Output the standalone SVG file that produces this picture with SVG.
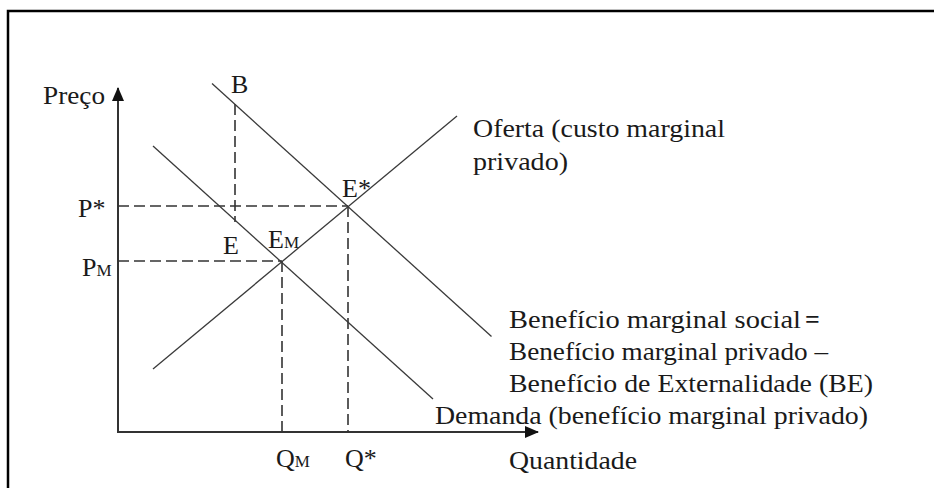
<svg xmlns="http://www.w3.org/2000/svg" width="934" height="488" viewBox="0 0 934 488">
<style>
text{font-family:"Liberation Serif","Times New Roman",serif;font-size:26px;fill:#1a1a1a}
.sub{font-size:17px}
.curve{stroke:#3a3a3a;stroke-width:1.3;fill:none}
.dash{stroke:#333;stroke-width:1.6;stroke-dasharray:11 5;fill:none}
.axis{stroke:#333;stroke-width:2;fill:none}
</style>
<defs>
<marker id="arr" viewBox="0 0 14 12" refX="13" refY="6" markerWidth="14" markerHeight="12" markerUnits="userSpaceOnUse" orient="auto">
<path d="M0,0 L14,6 L0,12 Z" fill="#111"/>
</marker>
</defs>
<rect x="8" y="11" width="1000" height="1000" fill="#fff" stroke="#000" stroke-width="2.5"/>
<g id="axes">
<line class="axis" x1="118" y1="432" x2="118" y2="88" marker-end="url(#arr)"/>
<line class="axis" x1="117" y1="432" x2="538" y2="432" marker-end="url(#arr)"/>
</g>
<g id="connectors">
<line class="dash" x1="118" y1="206" x2="348" y2="206"/>
<line class="dash" x1="118" y1="261" x2="282" y2="261"/>
<line class="dash" x1="282" y1="261" x2="282" y2="432"/>
<line class="dash" x1="348" y1="206" x2="348" y2="432"/>
<line class="dash" x1="235" y1="104" x2="235" y2="222"/>
</g>
<g id="social-benefit">
<line class="curve" x1="212" y1="83.5" x2="491.5" y2="336.5"/>
</g>
<g id="demand">
<line class="curve" x1="153" y1="146" x2="433" y2="399"/>
</g>
<g id="supply">
<line class="curve" x1="153" y1="369" x2="457" y2="116"/>
</g>
<g id="labels">
<text x="43" y="104" textLength="62" lengthAdjust="spacingAndGlyphs">Preço</text>
<text x="231" y="93">B</text>
<text x="78" y="217">P*</text>
<text x="82" y="276">P<tspan class="sub">M</tspan></text>
<text x="223" y="254">E</text>
<text x="268" y="248">E<tspan class="sub">M</tspan></text>
<text x="342" y="197">E*</text>
<text x="276" y="467">Q<tspan class="sub">M</tspan></text>
<text x="345" y="467">Q*</text>
<text x="473" y="137" textLength="252" lengthAdjust="spacingAndGlyphs">Oferta (custo marginal</text>
<text x="473" y="170" textLength="95" lengthAdjust="spacingAndGlyphs">privado)</text>
<text x="509" y="328" textLength="292" lengthAdjust="spacingAndGlyphs">Benefício marginal social</text>
<text x="805" y="328" font-weight="bold">=</text>
<text x="509" y="360" textLength="319" lengthAdjust="spacingAndGlyphs">Benefício marginal privado –</text>
<text x="509" y="392" textLength="364" lengthAdjust="spacingAndGlyphs">Benefício de Externalidade (BE)</text>
<text x="435" y="424" textLength="433" lengthAdjust="spacingAndGlyphs">Demanda (benefício marginal privado)</text>
<text x="509" y="469" textLength="128" lengthAdjust="spacingAndGlyphs">Quantidade</text>
</g>
</svg>
